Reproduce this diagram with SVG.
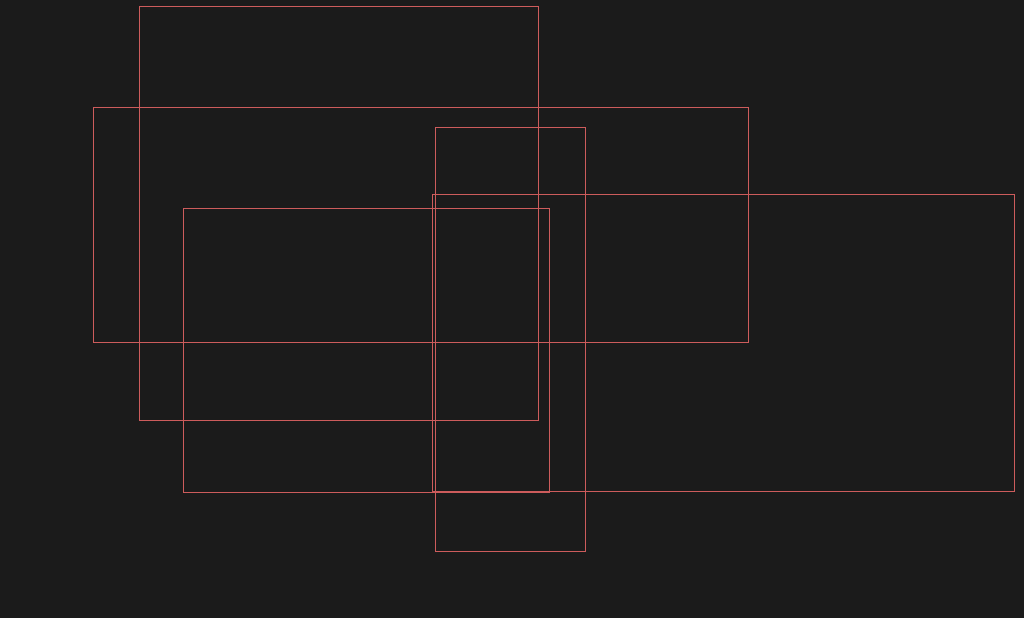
<svg xmlns="http://www.w3.org/2000/svg" width="1024" height="618" viewBox="0 0 1024 618">
<style>
.box{fill:none;stroke:#cd5c5c;stroke-width:1}
</style>
<rect width="1024" height="618" fill="#1b1b1b"/>
<g id="node-a"><rect class="box" x="139.5" y="6.5" width="399" height="414"/></g>
<g id="node-b"><rect class="box" x="93.5" y="107.5" width="655" height="235"/></g>
<g id="node-c"><rect class="box" x="435.5" y="127.5" width="150" height="424"/></g>
<g id="node-d"><rect class="box" x="183.5" y="208.5" width="366" height="284"/></g>
<g id="node-e"><rect class="box" x="432.5" y="194.5" width="582" height="297"/></g>
<g id="connectors"></g>
</svg>
